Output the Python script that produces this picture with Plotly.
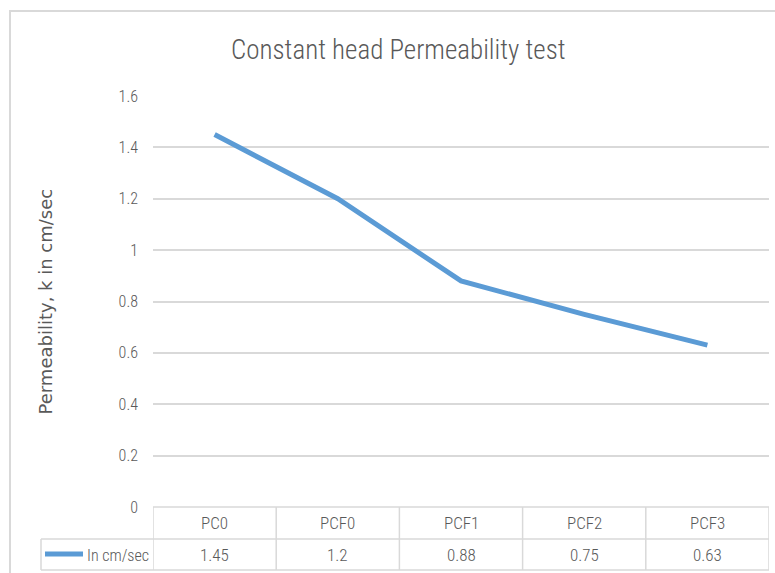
import plotly.graph_objects as go

categories = ["PC0", "PCF0", "PCF1", "PCF2", "PCF3"]
values = [1.45, 1.2, 0.88, 0.75, 0.63]
value_labels = ["1.45", "1.2", "0.88", "0.75", "0.63"]
series_name = "In cm/sec"
title_text = "Constant head Permeability test"
y_title = "Permeability, k in cm/sec"
y_ticks = [0, 0.2, 0.4, 0.6, 0.8, 1.0, 1.2, 1.4, 1.6]
y_ticktext = ["0", "0.2", "0.4", "0.6", "0.8", "1", "1.2", "1.4", "1.6"]

W, H = 775, 573
L, R, T, B = 153, 769, 96, 507
pw, ph = R - L, B - T

def px_x(px):
    return (px - L) / pw

def px_y(py):
    return (B - py) / ph

COND = "Roboto Condensed, Liberation Sans Narrow, Roboto, sans-serif"
GRAY = "#595959"
LINE_C = "#D9D9D9"
BLUE = "#5B9BD5"

fig = go.Figure()
fig.add_trace(go.Scatter(
    x=categories, y=values, mode="lines", name=series_name,
    line=dict(color=BLUE, width=5), showlegend=False, hoverinfo="x+y",
))

shapes = []
shapes.append(dict(type="rect", xref="paper", yref="paper",
                   x0=px_x(10), x1=px_x(790), y0=px_y(590), y1=px_y(11),
                   line=dict(color="#D9D9D9", width=2), layer="below"))
n = len(categories)
row1 = px_y(539)
row2 = px_y(570)
shapes.append(dict(type="line", xref="x", yref="paper", x0=-0.5, x1=n - 0.5, y0=0, y1=0,
                   line=dict(color=LINE_C, width=1.5)))
for yy in (row1, row2):
    shapes.append(dict(type="line", xref="paper", yref="paper", x0=px_x(41), x1=1, y0=yy, y1=yy,
                       line=dict(color=LINE_C, width=1.5)))
for i in range(n + 1):
    shapes.append(dict(type="line", xref="x", yref="paper", x0=i - 0.5, x1=i - 0.5, y0=0, y1=row2,
                       line=dict(color=LINE_C, width=1.5)))
shapes.append(dict(type="line", xref="paper", yref="paper", x0=px_x(41), x1=px_x(41), y0=row1, y1=row2,
                   line=dict(color=LINE_C, width=1.5)))
shapes.append(dict(type="line", xref="paper", yref="paper", x0=px_x(45), x1=px_x(83),
                   y0=px_y(554), y1=px_y(554), line=dict(color=BLUE, width=5)))

annotations = []
for c, v in zip(categories, value_labels):
    annotations.append(dict(x=c, y=px_y(523), xref="x", yref="paper", text=c, showarrow=False,
                            font=dict(family=COND, size=17, color=GRAY, weight=300),
                            xanchor="center", yanchor="middle"))
    annotations.append(dict(x=c, y=px_y(555), xref="x", yref="paper", text=v, showarrow=False,
                            font=dict(family=COND, size=17, color=GRAY, weight=300),
                            xanchor="center", yanchor="middle"))
annotations.append(dict(x=px_x(151), y=px_y(555), xref="paper", yref="paper", text=series_name,
                        showarrow=False, font=dict(family=COND, size=16, color=GRAY, weight=300),
                        xanchor="right", yanchor="middle"))
annotations.append(dict(x=px_x(45), y=0.5, xref="paper", yref="paper", text=y_title, textangle=-90,
                        showarrow=False, font=dict(family="DejaVu Sans", size=18, color=GRAY, weight=500),
                        xanchor="center", yanchor="middle"))
annotations.append(dict(x=px_x(398), y=px_y(50), xref="paper", yref="paper", text=title_text,
                        showarrow=False, font=dict(family="Roboto Condensed, Roboto, sans-serif", size=27, color=GRAY, weight=300),
                        xanchor="center", yanchor="middle"))

fig.update_layout(
    width=W, height=H,
    margin=dict(l=L, r=W - R, t=T, b=H - B, pad=0),
    paper_bgcolor="white", plot_bgcolor="white",
    shapes=shapes, annotations=annotations,
    xaxis=dict(type="category", range=[-0.5, n - 0.5], showticklabels=False, showgrid=False,
               zeroline=False, showline=False, ticks=""),
    yaxis=dict(range=[0, 1.6], tickvals=y_ticks, ticktext=y_ticktext, showgrid=True,
               gridcolor=LINE_C, gridwidth=1.5, zeroline=False, showline=False, ticks="",
               ticklabelstandoff=14, tickfont=dict(family=COND, size=16, color=GRAY, weight=300)),
)

fig.write_html("out.html", config={"displayModeBar": False},
               post_script="document.body.style.margin='0';document.body.style.overflow='hidden';")
